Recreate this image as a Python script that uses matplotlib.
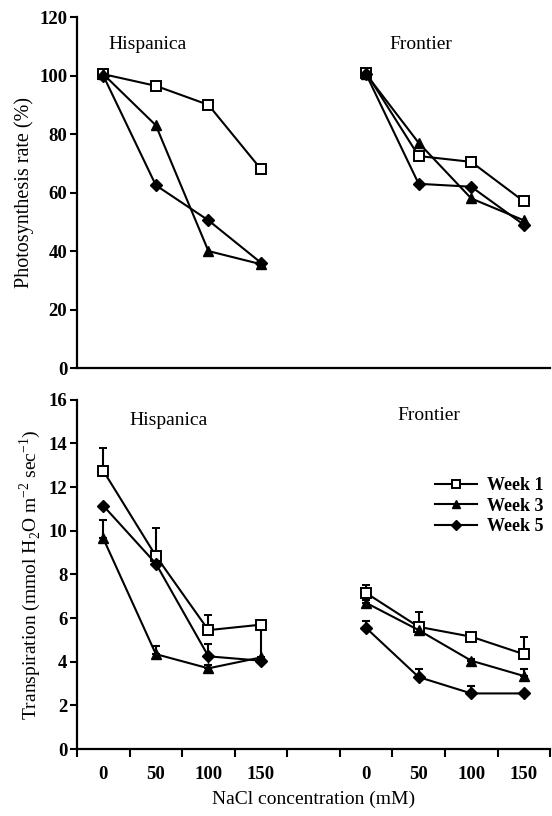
import numpy as np
import matplotlib.pyplot as plt
from matplotlib.lines import Line2D

plt.rcParams['font.family'] = ['Liberation Serif', 'DejaVu Serif']
plt.rcParams['mathtext.fontset'] = 'custom'
plt.rcParams['mathtext.rm'] = 'Liberation Serif'

# NaCl levels (mM) and their slot positions on the shared x axis
nacl = ['0', '50', '100', '150']
pos_hisp = np.array([0.5, 1.5, 2.5, 3.5])
pos_front = np.array([5.5, 6.5, 7.5, 8.5])

# photosynthesis rate (%)
ps_hisp_w1 = [100.5, 96.5, 90, 68]
ps_hisp_w3 = [100.5, 83, 40, 35.5]
ps_hisp_w5 = [100, 62.5, 50.5, 36]
ps_front_w1 = [101, 72.5, 70.5, 57]
ps_front_w3 = [100.5, 77, 58, 50.5]
ps_front_w5 = [100.5, 63, 62, 49]

# transpiration (mmol H2O m-2 sec-1) and upper error
tr_hisp_w1 = [12.75, 8.85, 5.45, 5.7]
tr_hisp_w1_err = [1.05, 1.3, 0.7, 0.0]
tr_hisp_w3 = [9.65, 4.35, 3.7, 4.2]
tr_hisp_w3_err = [0.85, 0.35, 0.15, 1.4]
tr_hisp_w5 = [11.15, 8.5, 4.25, 4.05]
tr_hisp_w5_err = [0.0, 0.0, 0.55, 0.0]
tr_front_w1 = [7.15, 5.6, 5.15, 4.35]
tr_front_w1_err = [0.35, 0.7, 0.15, 0.8]
tr_front_w3 = [6.7, 5.45, 4.05, 3.35]
tr_front_w3_err = [0.15, 0.15, 0.1, 0.3]
tr_front_w5 = [5.55, 3.3, 2.55, 2.55]
tr_front_w5_err = [0.3, 0.35, 0.35, 0.0]

styles = {
    'Week 1': dict(marker='s', mfc='white', mec='black', ms=6.5, mew=1.4),
    'Week 3': dict(marker='^', mfc='black', mec='black', ms=7.5),
    'Week 5': dict(marker='D', mfc='black', mec='black', ms=6),
}

fig = plt.figure(figsize=(5.52, 8.16), dpi=100)
ax1 = fig.add_axes([0.1395, 0.549, 0.857, 0.43])
ax2 = fig.add_axes([0.1395, 0.082, 0.857, 0.428])

for ax in (ax1, ax2):
    ax.spines['top'].set_visible(False)
    ax.spines['right'].set_visible(False)
    ax.spines['left'].set_linewidth(1.6)
    ax.spines['bottom'].set_linewidth(1.6)
    ax.set_xlim(0, 9)

# top panel
series_top = [('Week 1', ps_hisp_w1, ps_front_w1),
              ('Week 3', ps_hisp_w3, ps_front_w3),
              ('Week 5', ps_hisp_w5, ps_front_w5)]
for name, h, f in series_top:
    ax1.plot(pos_hisp, h, color='black', lw=1.5, **styles[name])
    ax1.plot(pos_front, f, color='black', lw=1.5, **styles[name])
ax1.set_ylim(0, 120)
ax1.set_yticks(np.arange(0, 121, 20))
ax1.set_xticks([])
ax1.tick_params(axis='y', direction='out', length=5, width=1.5, labelsize=13.5, pad=2)
for lbl in ax1.get_yticklabels():
    lbl.set_fontweight('bold')
ax1.set_ylabel('Photosynthesis rate (%)', fontsize=14.5, labelpad=4)
ax1.text(1.35, 110.5, 'Hispanica', fontsize=14, ha='center', va='center')
ax1.text(6.55, 110.5, 'Frontier', fontsize=14, ha='center', va='center')

# bottom panel
series_bot = [('Week 1', tr_hisp_w1, tr_hisp_w1_err, tr_front_w1, tr_front_w1_err),
              ('Week 3', tr_hisp_w3, tr_hisp_w3_err, tr_front_w3, tr_front_w3_err),
              ('Week 5', tr_hisp_w5, tr_hisp_w5_err, tr_front_w5, tr_front_w5_err)]
handles = []
for name, h, he, f, fe in series_bot:
    ax2.errorbar(pos_hisp, h, yerr=[np.zeros(4), he], color='black', lw=1.5,
                 elinewidth=1.5, capsize=3, capthick=1.5, **styles[name])
    ax2.errorbar(pos_front, f, yerr=[np.zeros(4), fe], color='black', lw=1.5,
                 elinewidth=1.5, capsize=3, capthick=1.5, **styles[name])
    st = dict(styles[name])
    st['ms'] = st['ms'] * 0.8
    handles.append(Line2D([], [], color='black', lw=1.5, label=name, **st))
ax2.set_ylim(0, 16)
ax2.set_yticks(np.arange(0, 17, 2))
ax2.set_xticks(np.arange(0, 10))
ax2.set_xticklabels([])
ax2.set_xticks(np.concatenate([pos_hisp, pos_front]), minor=True)
ax2.set_xticklabels(nacl + nacl, minor=True)
ax2.tick_params(axis='x', which='major', direction='out', length=6, width=1.5)
ax2.tick_params(axis='x', which='minor', length=0, labelsize=13.5, pad=12)
ax2.tick_params(axis='y', direction='out', length=5, width=1.5, labelsize=13.5, pad=2)
for lbl in ax2.get_yticklabels() + ax2.get_xticklabels(minor=True):
    lbl.set_fontweight('bold')
ax2.set_ylabel('Transpiration (mmol H$_2$O m$^{-2}$ sec$^{-1}$)', fontsize=14, labelpad=4)
ax2.set_xlabel('NaCl concentration (mM)', fontsize=14, labelpad=6)
ax2.text(1.75, 15.05, 'Hispanica', fontsize=14, ha='center', va='center')
ax2.text(6.7, 15.3, 'Frontier', fontsize=14, ha='center', va='center')
leg = ax2.legend(handles=handles, loc='upper right', bbox_to_anchor=(1.01, 0.81),
                 frameon=False, fontsize=13, handlelength=2.3, handletextpad=0.6,
                 labelspacing=0.2, borderaxespad=0.2)
for t in leg.get_texts():
    t.set_fontweight('bold')

fig.savefig('out.png', dpi=100)
